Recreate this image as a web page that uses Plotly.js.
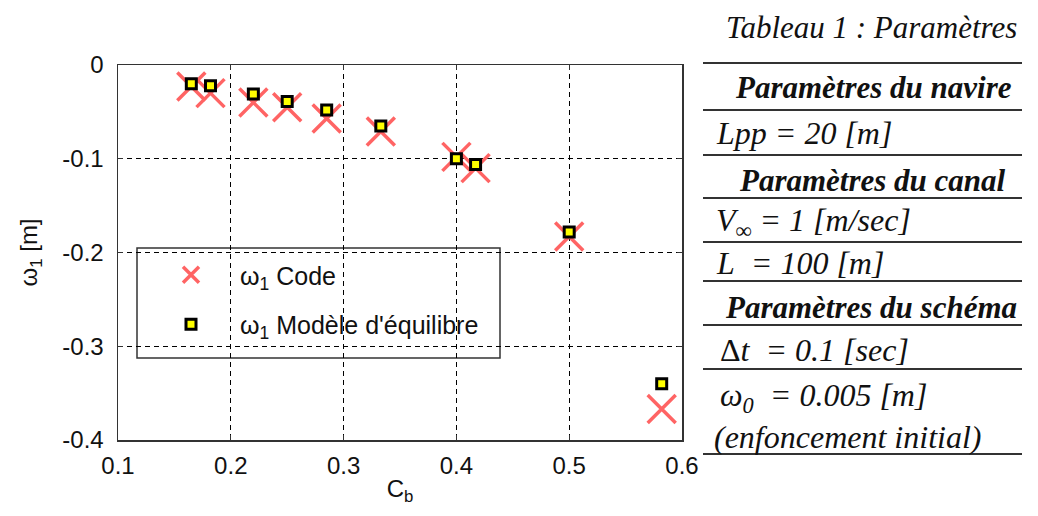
<!DOCTYPE html>
<html>
<head>
<meta charset="utf-8">
<script src="https://cdn.plot.ly/plotly-3.0.1.min.js"></script>
<style>
  html, body { margin: 0; padding: 0; background: #fff; }
  #chart { width: 1038px; height: 516px; }
</style>
</head>
<body>
<div id="chart"></div>
<script>
// ---- data ----
var cbValues   = [0.165, 0.182, 0.220, 0.250, 0.285, 0.333, 0.400, 0.417, 0.500, 0.582];
var omegaCode  = [-0.023, -0.030, -0.040, -0.045, -0.057, -0.071, -0.098, -0.110, -0.183, -0.367];
var omegaModel = [-0.020, -0.022, -0.031, -0.039, -0.048, -0.065, -0.100, -0.106, -0.178, -0.340];
var xTickVals  = [0.1, 0.2, 0.3, 0.4, 0.5, 0.6];
var xTickText  = ["0.1", "0.2", "0.3", "0.4", "0.5", "0.6"];
var yTickVals  = [0, -0.1, -0.2, -0.3, -0.4];
var yTickText  = ["0", "-0.1", "-0.2", "-0.3", "-0.4"];
var seriesNames = ["ω<sub>1</sub> Code", "ω<sub>1</sub> Modèle d'équilibre"];
var tableTitle = "Tableau 1 : Paramètres";
var tableRows = [
  {text: "<b><i>Paramètres du navire</i></b>", kind: "head"},
  {text: "<i>Lpp = 20 [m]</i>", kind: "row"},
  {text: "<b><i>Paramètres du canal</i></b>", kind: "head"},
  {text: "<i>V<sub>∞</sub> = 1 [m/sec]</i>", kind: "row"},
  {text: "<i>L\u00a0 = 100 [m]</i>", kind: "row"},
  {text: "<b><i>Paramètres du schéma</i></b>", kind: "head"},
  {text: "Δ<i>t\u00a0 = 0.1 [sec]</i>", kind: "row"},
  {text: "<i>ω<sub>0</sub>\u00a0 = 0.005 [m]</i>", kind: "row"},
  {text: "<i>(enfoncement initial)</i>", kind: "row"}
];

// ---- layout helpers (pixel -> paper) ----
var W = 1038, H = 516;
var M = {l: 118, r: 356, t: 65, b: 76};
var PW = W - M.l - M.r, PH = H - M.t - M.b;
function px(x) { return (x - M.l) / PW; }
function py(y) { return (H - M.b - y) / PH; }

var tickFont = {family: "Liberation Sans, Arial, sans-serif", size: 24, color: "#111"};
var serif = "Liberation Serif, Times New Roman, serif";

var traces = [
  {
    x: cbValues, y: omegaCode, type: "scatter", mode: "markers",
    name: seriesNames[0], legendgroup: "a",
    marker: {symbol: "x-thin", size: 28, color: "#ff6464",
             line: {color: "#ff6464", width: 3.5}},
    hoverinfo: "x+y"
  },
  {
    x: cbValues, y: omegaModel, type: "scatter", mode: "markers",
    name: seriesNames[1], legendgroup: "b",
    marker: {symbol: "square", size: 10, color: "#ffff00",
             line: {color: "#000", width: 3}},
    hoverinfo: "x+y"
  }
];

var shapes = [
  // legend box
  {type: "rect", xref: "paper", yref: "paper", layer: "between",
   x0: px(137), x1: px(500), y0: py(358), y1: py(248),
   fillcolor: "#fff", line: {color: "#333", width: 1.5}}
];
var lineYs = [63, 110, 155, 198, 242, 281, 325, 369, 454];
lineYs.forEach(function (y) {
  shapes.push({type: "line", xref: "paper", yref: "paper",
    x0: px(703), x1: px(1022), y0: py(y), y1: py(y),
    line: {color: "#333", width: 2}});
});

var annotations = [
  {text: "<i>" + tableTitle + "</i>", xref: "paper", yref: "paper",
   x: px(871), y: py(28), xanchor: "center", yanchor: "middle", showarrow: false,
   font: {family: serif, size: 31, color: "#111"}}
];
var rowYs = [87, 133, 180, 222, 263, 307, 350, 397, 437];
var rowXs = [873, 714, 872, 714, 714, 871, 718, 718, 712];
tableRows.forEach(function (r, i) {
  annotations.push({text: r.text, xref: "paper", yref: "paper",
    x: px(rowXs[i]), y: py(rowYs[i]),
    xanchor: r.kind === "head" ? "center" : "left", yanchor: "middle",
    showarrow: false, font: {family: serif, size: r.kind === "head" ? 31 : 32, color: "#111"}});
});

var layout = {
  width: W, height: H,
  margin: M,
  paper_bgcolor: "#fff", plot_bgcolor: "#fff",
  showlegend: true,
  legend: {
    x: px(142), y: py(252), xanchor: "left", yanchor: "top",
    bgcolor: "rgba(0,0,0,0)", borderwidth: 0,
    itemwidth: 88, tracegroupgap: 14,
    font: {family: tickFont.family, size: 25, color: "#111"}
  },
  xaxis: {
    range: [0.1, 0.6], tickvals: xTickVals, ticktext: xTickText,
    showgrid: true, gridcolor: "#000", gridwidth: 1, griddash: "5px,4px",
    zeroline: false, showline: true, linecolor: "#333", linewidth: 1.5,
    mirror: "ticks", ticks: "inside", ticklen: 5, tickcolor: "#333",
    tickfont: tickFont, ticklabelstandoff: 4,
    title: {text: "C<sub>b</sub>", font: tickFont, standoff: 2}
  },
  yaxis: {
    range: [-0.4, 0], tickvals: yTickVals, ticktext: yTickText,
    showgrid: true, gridcolor: "#000", gridwidth: 1, griddash: "5px,4px",
    zeroline: false, showline: true, linecolor: "#333", linewidth: 1.5,
    mirror: "ticks", ticks: "inside", ticklen: 5, tickcolor: "#333",
    tickfont: tickFont, ticklabelstandoff: 8,
    title: {text: "ω<sub>1</sub> [m]", font: tickFont, standoff: 18}
  },
  shapes: shapes,
  annotations: annotations
};

Plotly.newPlot("chart", traces, layout, {displayModeBar: false, staticPlot: true});
</script>
</body>
</html>
